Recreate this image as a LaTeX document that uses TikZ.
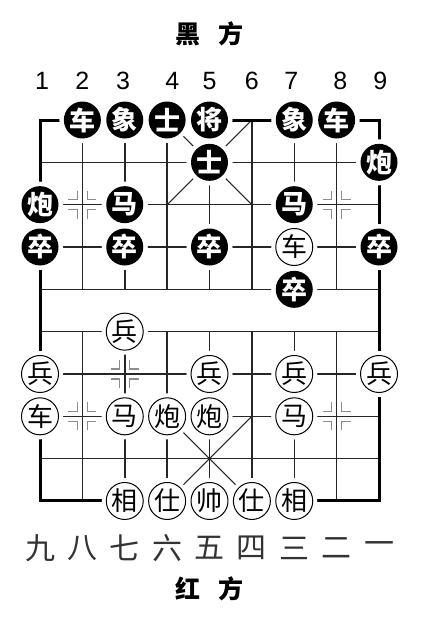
\documentclass[tikz,border=0pt]{standalone}
\usepackage{fontspec}
\setmainfont{Liberation Sans}
\newfontfamily\cjk{Noto Sans CJK SC}
\tikzset{
  gridline/.style={line width=1.5pt, black!85},
  frameline/.style={line width=3pt, line cap=rect},
  palaceline/.style={line width=1.1pt, black!85},
  posmarkline/.style={line width=1.2pt, black!45},
  blackpiece/.style={circle, minimum size=37pt, inner sep=0pt, fill=black, text=white,
    font=\cjk\bfseries\fontsize{26}{26}\selectfont, preaction={draw=white, line width=9pt}},
  redpiece/.style={circle, minimum size=37pt, inner sep=0pt, fill=white, draw=black, line width=1pt,
    font=\cjk\fontsize{26}{26}\selectfont, preaction={draw=white, line width=9pt}},
  filenum/.style={font=\fontsize{25}{25}\selectfont},
  filecn/.style={font=\cjk\fontsize{30}{30}\selectfont, text=black!80},
  sidelabel/.style={font=\cjk\bfseries\fontsize{25}{25}\selectfont}
}
\newcommand\posmark[2]{%
  \foreach \sx in {-1,1}
    \foreach \sy in {-1,1}
      \draw[posmarkline] (#1+\sx*0.12,#2+\sy*0.33) -- (#1+\sx*0.12,#2+\sy*0.12) -- (#1+\sx*0.33,#2+\sy*0.12);%
}
\begin{document}
\begin{tikzpicture}[x=42.375pt,y=-42.33pt]
  \useasboundingbox (0.056,-2.835) rectangle (9.968,11.788);
  % board
  \foreach \r in {1,...,8}
    \draw[gridline] (1,\r) -- (9,\r);
  \foreach \c in {2,...,8} {
    \draw[gridline] (\c,0) -- (\c,4);
    \draw[gridline] (\c,5) -- (\c,9);
  }
  \draw[palaceline] (4,0) -- (6,2) (6,0) -- (4,2);
  \draw[palaceline] (4,7) -- (6,9) (6,7) -- (4,9);
  \draw[frameline] (1,0) rectangle (9,9);
  \posmark{2}{2}
  \posmark{8}{2}
  \posmark{3}{6}
  \posmark{2}{7}
  \posmark{8}{7}
  % black side
  \foreach \c/\r/\t [count=\i] in {2/0/车, 3/0/象, 4/0/士, 5/0/将, 7/0/象, 8/0/车,
      5/1/士, 9/1/炮, 1/2/炮, 3/2/马, 7/2/马,
      1/3/卒, 3/3/卒, 5/3/卒, 9/3/卒, 7/4/卒}
    \node[blackpiece] (b\i) at (\c,\r) {\t};
  % red side
  \foreach \c/\r/\t [count=\i] in {7/3/车, 3/5/兵,
      1/6/兵, 5/6/兵, 7/6/兵, 9/6/兵,
      1/7/车, 3/7/马, 4/7/炮, 5/7/炮, 7/7/马,
      3/9/相, 4/9/仕, 5/9/帅, 6/9/仕, 7/9/相}
    \node[redpiece] (r\i) at (\c,\r) {\t};
  % labels
  \node[sidelabel] (top) at (5,-2.03) {黑\hspace{0.75em}方};
  \node[sidelabel] (bottom) at (5,11.08) {红\hspace{0.75em}方};
  \foreach \n/\x in {1/1.05, 2/2, 3/2.96, 4/4.12, 5/5, 6/6, 7/6.93, 8/8.09, 9/9.03}
    \node[filenum] (n\n) at (\x,-0.92) {\n};
  \foreach \t [count=\c] in {九,八,七,六,五,四,三,二,一}
    \node[filecn] (f\c) at (\c,10.11) {\t};
\end{tikzpicture}
\end{document}
